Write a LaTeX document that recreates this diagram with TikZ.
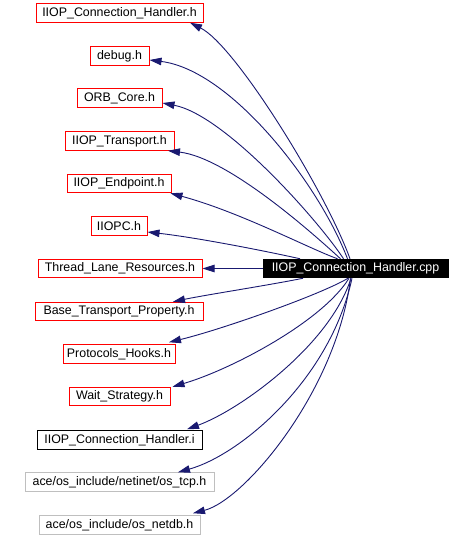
\documentclass[tikz,border=0pt]{standalone}
\usepackage{fontspec}
\setmainfont{Liberation Sans}
\usetikzlibrary{arrows.meta}
\definecolor{edgeblue}{RGB}{25,25,112}
\definecolor{boxred}{RGB}{255,0,0}
\definecolor{boxgray}{RGB}{191,191,191}
\begin{document}
\begin{tikzpicture}[x=1pt,y=-1pt,
  file/.style={draw=boxred,line width=1pt,fill=white,minimum height=18.5pt,inner xsep=0pt,inner ysep=0pt,
    font=\fontsize{12.4}{14}\selectfont,text=black},
  blackbox/.style={file,draw=black},
  graybox/.style={file,draw=boxgray},
  mainbox/.style={file,draw=black,fill=black,text=white},
  edge/.style={draw=edgeblue,line width=0.9pt,-{Triangle[length=12pt,width=7.5pt]}}]
\useasboundingbox (0,0) rectangle (473,537);
\node[mainbox,minimum width=185pt] (main) at (355.5,268.5) {IIOP\_Connection\_Handler.cpp};
\node[file,minimum width=167pt] (n1) at (119.5,13) {IIOP\_Connection\_Handler.h};
\node[file,minimum width=59pt] (n2) at (119.5,56) {debug.h};
\node[file,minimum width=85pt] (n3) at (119.5,98) {ORB\_Core.h};
\node[file,minimum width=109pt] (n4) at (119.5,141) {IIOP\_Transport.h};
\node[file,minimum width=104pt] (n5) at (119,183.5) {IIOP\_Endpoint.h};
\node[file,minimum width=56pt] (n6) at (119,226) {IIOPC.h};
\node[file,minimum width=164pt] (n7) at (120,268.5) {Thread\_Lane\_Resources.h};
\node[file,minimum width=168pt] (n8) at (119,311.5) {Base\_Transport\_Property.h};
\node[file,minimum width=112pt] (n9) at (119,354) {Protocols\_Hooks.h};
\node[file,minimum width=101pt] (n10) at (119.5,396.5) {Wait\_Strategy.h};
\node[blackbox,minimum width=165pt] (n11) at (119.5,440) {IIOP\_Connection\_Handler.i};
\node[graybox,minimum width=189pt] (n12) at (119.5,482) {ace/os\_include/netinet/os\_tcp.h};
\node[graybox,minimum width=161pt] (n13) at (119.5,525) {ace/os\_include/os\_netdb.h};
% edges
\draw[edge] ([xshift=-5.5pt]main.north) .. controls (325,190) and (235,45) .. ([xshift=70.5pt]n1.south);
\draw[edge] ([xshift=-8pt]main.north) .. controls (318,182) and (230,70) .. ([yshift=-4pt]n2.east);
\draw[edge] ([xshift=-12pt]main.north) .. controls (318,220) and (225,115) .. ([yshift=-5pt]n3.east);
\draw[edge] ([xshift=-15pt]main.north) .. controls (320,240) and (230,158) .. ([xshift=48.5pt]n4.south);
\draw[edge] ([xshift=-18pt]main.north) .. controls (310,249) and (240,212) .. ([xshift=-1pt]n5.south east);
\draw[edge] ([xshift=-55.5pt]main.north) .. controls (270,252) and (200,238) .. ([yshift=-6pt]n6.east);
\draw[edge] (main.west) -- (n7.east);
\draw[edge] ([xshift=-52.5pt]main.south) .. controls (270,285) and (205,295) .. ([xshift=54pt]n8.north);
\draw[edge] ([xshift=-7.5pt]main.south) .. controls (320,295) and (220,330) .. ([xshift=50pt,yshift=2pt]n9.north);
\draw[edge] ([xshift=-6.5pt]main.south) .. controls (322,322) and (230,370) .. ([xshift=2pt]n10.north east);
\draw[edge] ([xshift=-4.5pt]main.south) .. controls (330,345) and (240,410) .. ([xshift=67.5pt,yshift=1pt]n11.north);
\draw[edge] ([xshift=-3.5pt]main.south) .. controls (330,380) and (240,455) .. ([xshift=58.5pt]n12.north);
\draw[edge] ([xshift=-5pt]main.south) .. controls (337,390) and (245,500) .. ([xshift=73.5pt,yshift=2pt]n13.north);
\end{tikzpicture}
\end{document}
